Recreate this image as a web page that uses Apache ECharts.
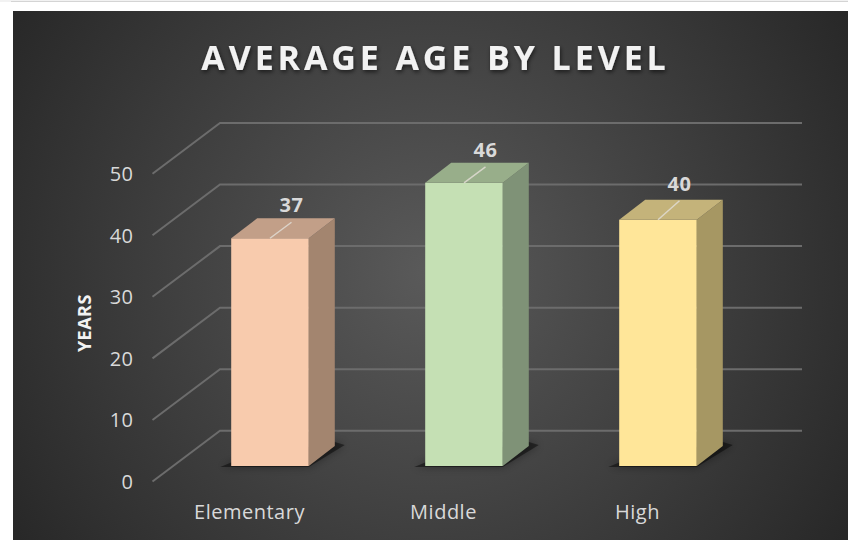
<!DOCTYPE html>
<html style="height: 100%;">
<head>
<meta charset="utf-8">
<title>Average age by level</title>
<script type="text/javascript" src="https://cdn.jsdelivr.net/npm/echarts@6/dist/echarts.min.js"></script>
<style>
  /* echarts has no letter spacing option, the svg renderer lets css do it */
  #container svg text { letter-spacing: 0.5px; }
  #container svg text[style*="34px"] { letter-spacing: 3.9px; }
</style>
</head>
<body style="height: 100%; margin: 0; background: #fff; overflow: hidden">
<div id="container" style="width: 848px; height: 540px"></div>
<script type="text/javascript">
var titleText = 'AVERAGE AGE BY LEVEL';
var axisName = 'YEARS';
var categories = ['Elementary', 'Middle', 'High'];
var ages = [37, 46, 40];
var wallTicks = [0, 10, 20, 30, 40, 50];
var frontColors = ['#F8CBAD', '#C5E0B4', '#FFE699'];
var sideColors = ['#A3856F', '#7F9277', '#A69763'];
var topColors = ['#C29F88', '#98AE8A', '#C4B37A'];
// the High label sits a little higher above its bar
var labelLift = [0, 0, 3];

var FONT = '"Open Sans", "Noto Sans", sans-serif';
// 3d look: how far back the wall goes, where the bars stand, how deep they are
var WALL_DX = 67.5, WALL_DY = -50.7;
var BAR_DX = 20.5, BAR_DY = -15.5;
var SIDE_DX = 26, SIDE_DY = -20;

var chart = echarts.init(document.getElementById('container'), null, {renderer: 'svg'});

function renderWall(params, api) {
  var cs = params.coordSys;
  var y = api.coord([0, api.value(1)])[1];
  return {
    type: 'polyline',
    shape: {points: [
      [cs.x, y],
      [cs.x + WALL_DX, y + WALL_DY],
      [cs.x + cs.width + WALL_DX, y + WALL_DY]
    ]},
    style: {fill: null, stroke: '#6c6c6c', lineWidth: 2}
  };
}

function renderFloorShadow(params, api) {
  var base = api.coord([api.value(0), 0]);
  var w = api.size([1, 0])[0] * 0.4;
  var x0 = base[0] + BAR_DX - w / 2, x1 = x0 + w, y = base[1] + BAR_DY;
  return {
    type: 'polygon',
    shape: {points: [
      [x0 - 11, y + 1], [x1, y + 1], [x1 + SIDE_DX + 10, y + SIDE_DY - 1],
      [x1 + SIDE_DX, y + SIDE_DY - 4], [x0 + 6, y - 6]
    ]},
    style: {fill: 'rgba(0,0,0,0.45)', shadowBlur: 9, shadowColor: 'rgba(0,0,0,0.8)'}
  };
}

function renderBar(params, api) {
  var i = api.value(0);
  var base = api.coord([i, 0]);
  var top = api.coord([i, api.value(1)]);
  var w = api.size([1, 0])[0] * 0.4;
  var x0 = base[0] + BAR_DX - w / 2, x1 = x0 + w;
  var y0 = top[1] + BAR_DY, y1 = base[1] + BAR_DY;
  var cx = (x0 + x1) / 2;
  var lift = labelLift[i];
  return {
    type: 'group',
    children: [
      {type: 'rect', shape: {x: x0, y: y0, width: w, height: y1 - y0}, style: {fill: frontColors[i]}},
      {type: 'polygon', shape: {points: [[x1, y0], [x1 + SIDE_DX, y0 + SIDE_DY], [x1 + SIDE_DX, y1 + SIDE_DY], [x1, y1]]},
        style: {fill: sideColors[i]}},
      {type: 'polygon', shape: {points: [[x0, y0], [x0 + SIDE_DX, y0 + SIDE_DY], [x1 + SIDE_DX, y0 + SIDE_DY], [x1, y0]]},
        style: {fill: topColors[i]}},
      // leader line + value
      {type: 'line', shape: {x1: cx, y1: y0, x2: cx + 21.5, y2: y0 - 16 - lift},
        style: {stroke: '#e0dcd4', lineWidth: 1.5, opacity: 0.85}},
      {type: 'text', x: cx + 21.5, y: y0 - 33.5 - lift,
        style: {text: String(api.value(1)), fill: '#d9d9d9', font: 'bold 20px ' + FONT, align: 'center', verticalAlign: 'middle'}}
    ]
  };
}

var option = {
  animation: false,
  graphic: [
    {type: 'rect', z: -10, silent: true, shape: {x: 0, y: 0, width: 848, height: 2}, style: {fill: '#f2f2f2'}},
    {type: 'rect', z: -10, silent: true, shape: {x: 11, y: 1, width: 837, height: 1}, style: {fill: '#d4d4d4'}},
    {type: 'rect', z: -10, silent: true, shape: {x: 13, y: 11, width: 835, height: 529},
      style: {fill: {type: 'radial', x: 430, y: 272, r: 490, global: true, colorStops: [
        {offset: 0, color: '#5a5a5a'}, {offset: 1, color: '#282828'}
      ]}}}
  ],
  title: {
    text: titleText,
    left: 430.5,
    top: 35,
    textAlign: 'center',
    textStyle: {
      color: '#f2f2f2', fontFamily: FONT, fontWeight: 'bold', fontSize: 34,
      textShadowColor: 'rgba(0,0,0,0.6)', textShadowBlur: 4, textShadowOffsetX: 1, textShadowOffsetY: 2
    }
  },
  grid: {left: 152.5, right: 113.5, top: 173.7, bottom: 58.5},
  xAxis: {
    type: 'category',
    data: categories,
    axisLine: {show: false},
    axisTick: {show: false},
    axisLabel: {color: '#d9d9d9', fontFamily: FONT, fontSize: 20, margin: 20}
  },
  yAxis: {
    type: 'value',
    min: 0,
    max: 50,
    interval: 10,
    name: axisName,
    nameLocation: 'middle',
    nameRotate: 90,
    nameGap: 60,
    nameTextStyle: {color: '#f2f2f2', fontFamily: FONT, fontWeight: 'bold', fontSize: 18, padding: [0, 0, 0, 9]},
    axisLine: {show: false},
    axisTick: {show: false},
    splitLine: {show: false},
    axisLabel: {color: '#d9d9d9', fontFamily: FONT, fontSize: 20, margin: 19}
  },
  series: [
    {type: 'custom', z: 1, clip: false, silent: true, renderItem: renderWall,
      data: wallTicks.map(function (t) { return [0, t]; })},
    {type: 'custom', z: 2, clip: false, silent: true, renderItem: renderFloorShadow,
      data: ages.map(function (v, i) { return [i, v]; })},
    {type: 'custom', z: 3, clip: false, silent: true, renderItem: renderBar,
      data: ages.map(function (v, i) { return [i, v]; })}
  ]
};
chart.setOption(option);
</script>
</body>
</html>
